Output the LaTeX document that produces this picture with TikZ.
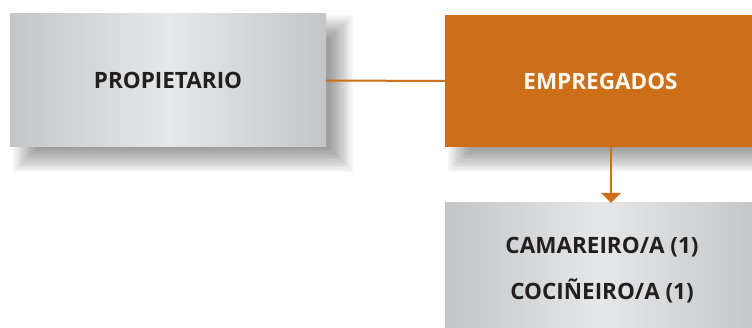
\documentclass[tikz,border=0pt]{standalone}
\usepackage{fontspec}
\setmainfont{Open Sans}
\usetikzlibrary{arrows.meta,calc}
\pgfdeclarelayer{background}
\pgfsetlayers{background,main}
\definecolor{orng}{HTML}{CC6F18}
\definecolor{gedge}{HTML}{C4C5C7}
\definecolor{gmid}{HTML}{E6E7E8}
\definecolor{txt}{HTML}{231F20}
\tikzset{
  graybox/.style={rectangle, inner sep=0pt, left color=gedge, right color=gedge, middle color=gmid,
    text=txt, font=\bfseries\fontsize{22.5}{27}\selectfont, align=center},
  orangebox/.style={rectangle, inner sep=0pt, fill=orng, text=white!95!orange,
    font=\bfseries\fontsize{22.5}{27}\selectfont},
  shadowlayer/.style={fill=black, opacity=0.026},
  conn/.style={draw=orng, line width=2pt}
}
\newcommand{\myshadow}[1]{%
  \foreach \k in {0,...,15}{%
    \pgfmathsetmacro{\ins}{-12+1.6*\k}%
    \fill[shadowlayer] ($(#1.north west)+(15+\ins,13+\ins)$) rectangle ($(#1.south east)+(15-\ins,13-\ins)$);
  }}
\begin{document}
\begin{tikzpicture}[x=1pt,y=-1pt]
\clip (0,0) rectangle (752,328);
\useasboundingbox (0,0) rectangle (752,328);
\node[graybox, minimum width=316pt, minimum height=133pt] (prop) at (168,80.5) {PROPIETARIO};
\node[orangebox, minimum width=311pt, minimum height=132pt] (emp) at (600.5,81) {EMPREGADOS};
\node[graybox, minimum width=314pt, minimum height=134pt] (cam) at (602,270) {CAMAREIRO/A (1)\\[19pt]COCIÑEIRO/A (1)};
\begin{pgfonlayer}{background}
\fill[white] (0,0) rectangle (752,328);
\myshadow{prop}
\myshadow{emp}
\end{pgfonlayer}
\draw[conn] (prop.east) -- (emp.west);
\coordinate (a1) at (611,147);
\draw[conn, -{Triangle[width=20pt,length=10pt]}] (emp.south -| a1) -- (cam.north -| a1);
\end{tikzpicture}
\end{document}
